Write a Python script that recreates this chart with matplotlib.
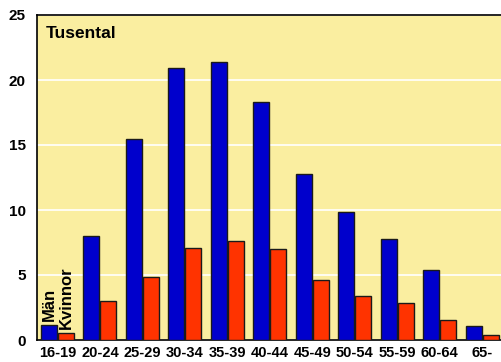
import matplotlib
matplotlib.use("Agg")
import matplotlib.pyplot as plt
import numpy as np

ages = ["16-19", "20-24", "25-29", "30-34", "35-39", "40-44",
        "45-49", "50-54", "55-59", "60-64", "65-"]
man = [1.15, 8.0, 15.5, 20.9, 21.4, 18.3, 12.8, 9.85, 7.8, 5.4, 1.1]
kvinnor = [0.55, 3.0, 4.85, 7.1, 7.6, 7.0, 4.6, 3.4, 2.85, 1.55, 0.35]

plt.rcParams["font.family"] = ["Liberation Sans", "DejaVu Sans"]

fig = plt.figure(figsize=(5.01, 3.62), dpi=100)
ax = fig.add_axes([37 / 501, 22 / 362, 1 - 37 / 501 + 0.004, (340 - 15) / 362])
ax.set_facecolor("#FAEEA0")

x = np.arange(len(ages))
w = 0.377
ax.bar(x, man, w, color="#0000CC", edgecolor="#1a1a1a", linewidth=1.0, zorder=3)
ax.bar(x + 0.40, kvinnor, w, color="#FF3300", edgecolor="#1a1a1a", linewidth=1.0, zorder=3)

ax.set_ylim(0, 25)
ax.set_xlim(-0.283, 10.69)
ax.set_yticks([0, 5, 10, 15, 20, 25])
ax.set_xticks(x + 0.20)
ax.set_xticklabels(ages)
ax.tick_params(length=0, labelsize=10.5, pad=4)
ax.tick_params(axis="y", pad=8, labelsize=11)
for lab in ax.get_xticklabels() + ax.get_yticklabels():
    lab.set_fontweight("bold")
ax.yaxis.grid(True, color="white", lw=1.2, zorder=1)
ax.set_axisbelow(True)
for s in ax.spines.values():
    s.set_color("black")
    s.set_linewidth(1.2)

ax.text(0.018, 0.965, "Tusental", transform=ax.transAxes, fontsize=12.5,
        fontweight="bold", va="top", ha="left")
ax.text(0, man[0] + 0.3, "Män", rotation=90, fontsize=12,
        fontweight="bold", ha="center", va="bottom")
ax.text(0.40, kvinnor[0] + 0.3, "Kvinnor", rotation=90, fontsize=12,
        fontweight="bold", ha="center", va="bottom")

fig.savefig("out.png", dpi=100)
